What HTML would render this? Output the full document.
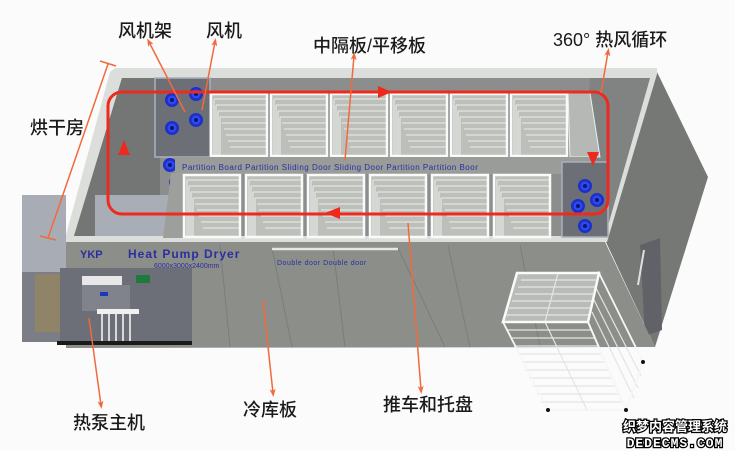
<!DOCTYPE html>
<html><head><meta charset="utf-8"><style>
html,body{margin:0;padding:0;background:#fbfbfb;}
svg{display:block;}
.lb{font-family:"Liberation Sans","Noto Sans CJK SC",sans-serif;font-size:18px;fill:#1a1a1a;font-weight:500;}
.bl{font-family:"Liberation Sans",sans-serif;fill:#2a2fa0;}
</style></head><body>
<svg width="735" height="451" viewBox="0 0 735 451" xmlns="http://www.w3.org/2000/svg">
<defs>
<marker id="oa" markerWidth="8" markerHeight="8" refX="4" refY="4" orient="auto" markerUnits="userSpaceOnUse">
<path d="M0,1 L8,4 L0,7 L2,4 Z" fill="#f26a3c"/></marker>
<g id="rk">
<rect x="0" y="0" width="58" height="64" fill="#bdbfbb"/>
<path d="M4,6 H56 M6,12 H56 M8,18 H56 M10,24 H56 M12,30 H56 M14,36 H56 M16,42 H56 M18,48 H56 M20,54 H56 M4,6 V64 M6,12 V64 M8,18 V64 M10,24 V64" stroke="#e2e4e0" stroke-width="1.3" fill="none"/>
<rect x="1" y="1" width="56" height="62" fill="none" stroke="#fafafa" stroke-width="2.5"/>
</g>
<g id="fan"><circle r="7" fill="#1c2fc8"/><circle r="4.5" fill="#2d49f0"/><circle r="2" fill="#0d1470"/></g>
</defs>
<rect width="735" height="451" fill="#fbfbfb"/>

<!-- right face -->
<polygon points="605,240 657,72 708,177 655,347" fill="#767875"/>
<polygon points="640,245 660,238 662,330 645,336" fill="#606268"/>
<line x1="644" y1="250" x2="638" y2="285" stroke="#e0e0e0" stroke-width="2"/>
<!-- rim -->
<polygon points="115,68 657,68 657,74 607,242 66,242 66,235 110,72" fill="#dcdedb"/>
<!-- interior -->
<polygon points="122,78 650,78 605,236 74,236" fill="#8b8e8c"/>
<polygon points="122,78 160,78 160,236 74,236" fill="#737674"/>
<polygon points="590,78 650,78 605,236 580,236" fill="#808381"/>
<rect x="95" y="195" width="80" height="41" fill="#a9aeb6"/>

<!-- fan rack left -->
<polygon points="155,78 210,78 210,157 155,157" fill="#6c7076" stroke="#aab0bb" stroke-width="1.5"/>
<use href="#fan" x="172" y="100"/><use href="#fan" x="196" y="94"/><use href="#fan" x="172" y="128"/><use href="#fan" x="196" y="120"/><use href="#fan" x="170" y="165"/><use href="#fan" x="176" y="183"/>

<!-- upper racks -->
<use href="#rk" x="210" y="93"/><use href="#rk" x="270" y="93"/><use href="#rk" x="330" y="93"/><use href="#rk" x="390" y="93"/><use href="#rk" x="450" y="93"/><use href="#rk" x="510" y="93"/>
<polygon points="568,93 590,93 600,157 570,157" fill="#b5b8b4" stroke="#eee" stroke-width="1"/>
<!-- partition board -->
<rect x="175" y="157" width="420" height="17" fill="#9a9c99"/>
<text class="bl" x="182" y="170" font-size="8" letter-spacing="0.5">Partition Board   Partition  Sliding Door  Sliding Door  Partition  Partition Boor</text>

<!-- lower racks -->
<polygon points="171,173 185,173 185,238 163,238" fill="#9c9f9b"/>
<use href="#rk" x="183" y="174"/><use href="#rk" x="245" y="174"/><use href="#rk" x="307" y="174"/><use href="#rk" x="369" y="174"/><use href="#rk" x="431" y="174"/><use href="#rk" x="493" y="174"/>
<!-- right fans -->
<rect x="562" y="162" width="46" height="75" fill="#6c7076" stroke="#aab0bb" stroke-width="1.5"/>
<use href="#fan" x="585" y="186"/><use href="#fan" x="578" y="206"/><use href="#fan" x="597" y="200"/><use href="#fan" x="585" y="226"/>

<!-- red loop -->
<rect x="108" y="92" width="500" height="122" rx="14" fill="none" stroke="#ee2a1e" stroke-width="3"/>
<polygon points="392,92 378,86 378,98" fill="#ee2a1e"/>
<polygon points="325,213 340,207 340,219" fill="#ee2a1e"/>
<polygon points="124,140 118,155 130,155" fill="#ee2a1e"/>
<polygon points="593,166 587,152 599,152" fill="#ee2a1e"/>

<!-- front face -->
<polygon points="66,242 605,242 655,347 66,348" fill="#8c8e8a"/>
<g stroke="#7b7d79" stroke-width="1">
<line x1="220" y1="245" x2="230" y2="347"/><line x1="272" y1="248" x2="292" y2="347"/><line x1="333" y1="248" x2="345" y2="347"/><line x1="398" y1="248" x2="445" y2="347"/><line x1="448" y1="245" x2="470" y2="347"/><line x1="520" y1="245" x2="540" y2="347"/>
</g>
<line x1="272" y1="249" x2="398" y2="249" stroke="#e6e6e6" stroke-width="2.5"/>
<text class="bl" x="80" y="258" font-size="11" font-weight="bold">YKP</text>
<text class="bl" x="128" y="258" font-size="12" font-weight="bold" letter-spacing="1">Heat  Pump  Dryer</text>
<text class="bl" x="154" y="268" font-size="7">6000x3000x2400mm</text>
<text class="bl" x="277" y="265" font-size="7" letter-spacing="0.5">Double  door Double  door</text>

<!-- heat pump -->
<polygon points="22,195 66,195 66,272 22,272" fill="#a8acb4"/>
<rect x="22" y="272" width="48" height="70" fill="#7b7e85"/>
<rect x="35" y="274" width="28" height="58" fill="#8f8468"/>
<rect x="60" y="268" width="132" height="76" fill="#6c6f77"/>
<rect x="82" y="276" width="40" height="9" fill="#e8e8e8"/>
<rect x="82" y="285" width="48" height="26" fill="#80838b"/>
<rect x="100" y="292" width="8" height="4" fill="#1f36c0"/>
<rect x="136" y="275" width="14" height="8" fill="#1e7a3a"/>
<rect x="97" y="309" width="42" height="5" fill="#f0f0f0"/>
<g stroke="#d8d8d8" stroke-width="2"><line x1="102" y1="314" x2="102" y2="345"/><line x1="109" y1="314" x2="109" y2="345"/><line x1="116" y1="314" x2="116" y2="345"/><line x1="123" y1="314" x2="123" y2="345"/><line x1="130" y1="314" x2="130" y2="345"/></g>
<rect x="57" y="341" width="135" height="4" fill="#1a1a1a"/>

<!-- cart -->
<polygon points="517,273 599,273 588,322 503,322" fill="#b8bbb7"/>
<g fill="none" stroke="#e4e6e2" stroke-width="1.2">
<path d="M521,280 H596 M518,287 H595 M515,294 H593 M512,301 H592 M509,308 H590 M506,315 H589"/>
<path d="M507,330 H592 M511,338 H595 M514,346 H599 M518,354 H602 M522,362 H606 M525,370 H609 M529,378 H613 M533,386 H616 M537,394 H620 M541,402 H623"/>
<path d="M592,312 L634,398 M594,300 L638,388 M596,288 L641,376 M545,322 L587,410 M558,273 L545,322"/>
</g>
<g fill="none" stroke="#f6f6f6" stroke-width="1.8">
<polygon points="503,322 588,322 626,410 548,410"/>
<polygon points="588,322 599,273 643,362 626,410"/>
</g>
<polygon points="517,273 599,273 588,322 503,322" fill="none" stroke="#fafafa" stroke-width="2.5"/>
<circle cx="548" cy="410" r="2" fill="#111"/><circle cx="626" cy="410" r="2" fill="#111"/><circle cx="643" cy="362" r="2" fill="#111"/>

<!-- leader lines -->
<g stroke="#f26a3c" stroke-width="1.5" fill="none">
<line x1="185" y1="112" x2="149" y2="42" marker-end="url(#oa)"/>
<line x1="202" y1="110" x2="215" y2="42" marker-end="url(#oa)"/>
<line x1="345" y1="160" x2="354" y2="56" marker-end="url(#oa)"/>
<line x1="601" y1="93" x2="608" y2="52" marker-end="url(#oa)"/>
<line x1="108" y1="64" x2="48" y2="238"/>
<line x1="100" y1="61" x2="116" y2="66"/><line x1="40" y1="236" x2="56" y2="240"/>
<line x1="89" y1="318" x2="101" y2="405" marker-end="url(#oa)"/>
<line x1="263" y1="300" x2="273" y2="393" marker-end="url(#oa)"/>
<line x1="408" y1="223" x2="421" y2="390" marker-end="url(#oa)"/>
</g>

<!-- labels -->
<text class="lb" x="118" y="37">风机架</text>
<text class="lb" x="206" y="37">风机</text>
<text class="lb" x="313" y="52">中隔板/平移板</text>
<text class="lb" x="553" y="46">360°  热风循环</text>
<text class="lb" x="30" y="134">烘干房</text>
<text class="lb" x="73" y="429">热泵主机</text>
<text class="lb" x="243" y="416">冷库板</text>
<text class="lb" x="383" y="411">推车和托盘</text>

<text x="675" y="431" text-anchor="middle" font-family="'Liberation Sans','Noto Sans CJK SC',sans-serif" font-size="13" font-weight="bold" fill="#fff" stroke="#000" stroke-width="2.5" paint-order="stroke">织梦内容管理系统</text>
<text x="675" y="447" text-anchor="middle" font-family="'Liberation Mono',monospace" font-size="13" font-weight="bold" fill="#fff" stroke="#000" stroke-width="2.5" paint-order="stroke" letter-spacing="1">DEDECMS.COM</text>
</svg>
</body></html>
